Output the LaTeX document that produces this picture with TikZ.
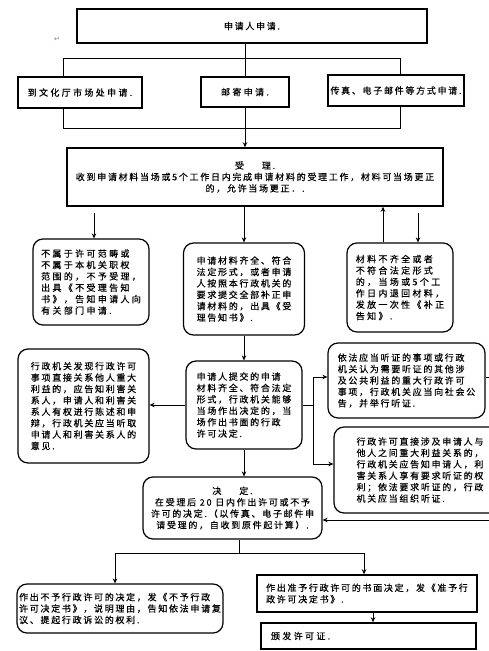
\documentclass[tikz,border=0pt]{standalone}
\usepackage{fontspec}
\setmainfont{Noto Sans CJK SC}[LetterSpace=19,FakeBold=0.5]
\newfontfamily\widefont{Noto Sans CJK SC}[LetterSpace=26,FakeBold=0.5]
\newfontfamily\symfont{DejaVu Sans}
\usetikzlibrary{arrows.meta}
\begin{document}
\begin{tikzpicture}[x=1pt,y=-1pt,
  sq/.style={draw, line width=1.5pt, inner sep=2pt},
  rbox/.style={draw, line width=1.2pt, rounded corners=10pt, inner sep=2pt},
  txt/.style={font=\fontsize{9}{11.4}\selectfont},
  wtxt/.style={font=\widefont\fontsize{9}{11.4}\selectfont},
  arr/.style={-{Stealth[length=5pt,width=4.5pt]}, line width=0.8pt},
  ln/.style={line width=0.8pt}]
\useasboundingbox[fill=white] (0,0) rectangle (488,651);

% top row
\node[sq, txt, minimum width=350pt, minimum height=34pt] (top) at (252,26) {申请人申请.};
\node[font=\symfont\fontsize{7}{7}\selectfont, text=gray] (ret) at (57,39) {↵};
\node[sq, wtxt, minimum width=124pt, minimum height=31pt] (b1) at (80,92.5) {到文化厅市场处申请.};
\node[sq, wtxt, minimum width=88pt, minimum height=30pt] (b2) at (245,92) {邮寄申请.};
\node[sq, txt, minimum width=136pt, minimum height=31pt] (b3) at (396,90.5) {传真、电子邮件等方式申请.};

% accept
\node[sq, txt, align=center, minimum width=376pt, minimum height=58pt] (shouli) at (255,177)
  {受\quad\quad 理.\\收到申请材料当场或5个工作日内完成申请材料的受理工作，材料可当场更正\\的，允许当场更正．.};

\node[rbox, wtxt, align=left, minimum width=116pt, minimum height=86pt] (lb) at (91,282)
  {不属于许可范畴或\\不属于本机关职权\\范围的，不予受理，\\出具《不受理告知\\书》，告知申请人向\\有关部门申请.};
\node[rbox, txt, align=left, minimum width=121pt, minimum height=92pt] (mb1) at (244,289)
  {申请材料齐全、符合\\法定形式，或者申请\\人按照本行政机关的\\要求提交全部补正申\\请材料的，出具《受\\理告知书》.};
\node[rbox, wtxt, align=left, minimum width=106pt, minimum height=89pt] (rb) at (400,287.5)
  {材料不齐全或者\\不符合法定形式\\的，当场或5个工\\作日内退回材料，\\发放一次性《补正\\告知》.};

\node[rbox, txt, align=left, minimum width=116pt, minimum height=88pt] (mb2) at (244,405)
  {申请人提交的申请\\材料齐全、符合法定\\形式，行政机关能够\\当场作出决定的，当\\场作出书面的行政\\许可决定.};
\node[rbox, txt, align=left, minimum width=131pt, minimum height=114pt] (lb2) at (83.5,406)
  {行政机关发现行政许可\\事项直接关系他人重大\\利益的，应告知利害关\\系人，申请人和利害关\\系人有权进行陈述和申\\辩，行政机关应当听取\\申请人和利害关系人的\\意见.};
\node[rbox, txt, align=left, minimum width=157pt, minimum height=75pt] (raA) at (406.5,380.5)
  {依法应当听证的事项或行政\\机关认为需要听证的其他涉\\及公共利益的重大行政许可\\事项，行政机关应当向社会公\\告，并举行听证.};
\node[rbox, txt, align=left, minimum width=172pt, minimum height=86pt] (raB) at (420,470)
  {行政许可直接涉及申请人与\\他人之间重大利益关系的，\\行政机关应告知申请人，利\\害关系人享有要求听证的权\\利；依法要求听证的，行政\\机关应当组织听证.};

\node[rbox, txt, align=center, minimum width=179pt, minimum height=62pt] (jd) at (232.5,508)
  {决\quad\quad 定.\\在受理后 20 日内作出许可或不予\\许可的决定.（以传真、电子邮件申\\请受理的，自收到原件起计算）.};

\node[rbox, txt, align=left, minimum width=206pt, minimum height=49pt] (lbot) at (120,608.5)
  {作出不予行政许可的决定，发《不予行政\\许可决定书》，说明理由，告知依法申请复\\议、提起行政诉讼的权利.};
\node[sq, txt, align=left, minimum width=220pt, minimum height=37pt] (rbot1) at (367,593.5)
  {作出准予行政许可的书面决定，发《准予行\\政许可决定书》.};
\node[sq, wtxt, align=left, inner xsep=10pt, text width=195pt, minimum height=26pt] (rbot2) at (368.5,636)
  {颁发许可证.};

% connectors top
\coordinate (jl) at (63,58); \coordinate (jr) at (400,58);
\coordinate (kl) at (63,128); \coordinate (kr) at (400,128);
\draw[ln] (top.south -| b2.north) -- (b2.north);
\draw[ln] (jl |- b1.north) -- (jl) -- (jr) -- (jr |- b3.north);
\draw[ln] (kl |- b1.south) -- (kl) -- (kr) -- (kr |- b3.south);
\draw[arr] (b2.south) -- (shouli.north -| b2.south);

% from accept
\coordinate (s1) at (94,213);
\draw[arr] (s1) -- (s1 |- lb.north);
\draw[arr] (shouli.south -| mb1.north) -- (mb1.north);
\coordinate (s2) at (383,0);
\draw[arr] (s2 |- rb.north) -- (s2 |- shouli.south);
\coordinate (s3) at (418,213);
\draw[arr] (s3) -- (s3 |- rb.north);

% middle
\draw[arr] (mb1.south) -- (mb2.north);
\draw[arr] (mb2.west) -- (mb2.west -| lb2.east);
\coordinate (t1) at (313,377); \coordinate (t2) at (313,464);
\draw[ln] (mb2.east) -- (mb2.east -| t1);
\draw[ln] (t1) -- (t2);
\draw[arr] (t1) -- (t1 -| raA.west);
\draw[arr] (t2) -- (t2 -| raB.west);
\coordinate (u1) at (500,377); \coordinate (u2) at (500,520);
\draw[arr] (u1 -| raA.east) -- (u1) -- (u2) -- (u2 -| jd.east);
\draw[arr] (mb2.south) -- (jd.north -| mb2.south);

% decision split
\coordinate (w0) at (239,553); \coordinate (wl) at (115,553); \coordinate (wr) at (364,553);
\draw[ln] (jd.south -| w0) -- (w0);
\draw[ln] (wl) -- (wr);
\draw[arr] (wl) -- (wl |- lbot.north);
\draw[arr] (wr) -- (wr |- rbot1.north);
\coordinate (x1) at (373,0);
\draw[arr] (x1 |- rbot1.south) -- (x1 |- rbot2.north);
\end{tikzpicture}
\end{document}
